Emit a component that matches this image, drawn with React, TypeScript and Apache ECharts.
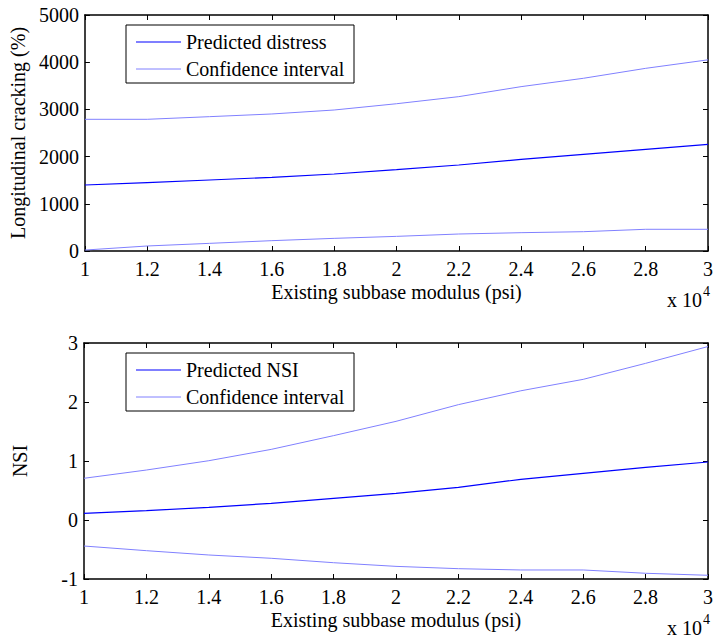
import React, { useEffect, useRef } from "react";
import * as echarts from "echarts";

// x in units of 10^4 psi
const xs = [1.0, 1.2, 1.4, 1.6, 1.8, 2.0, 2.2, 2.4, 2.6, 2.8, 3.0];
const xTicks = [1, 1.2, 1.4, 1.6, 1.8, 2, 2.2, 2.4, 2.6, 2.8, 3];

// Top plot: longitudinal cracking (%)
const predictedDistress = [1398, 1448, 1504, 1561, 1631, 1723, 1822, 1942, 2048, 2154, 2260];
const distressUpper = [2790, 2790, 2846, 2903, 2987, 3120, 3270, 3482, 3659, 3870, 4050];
const distressLower = [20, 106, 162, 219, 268, 310, 360, 388, 409, 460, 460];
const crackTicks = [0, 1000, 2000, 3000, 4000, 5000];

// Bottom plot: NSI
const predictedNSI = [0.113, 0.158, 0.215, 0.283, 0.368, 0.45, 0.554, 0.689, 0.791, 0.893, 0.983];
const nsiUpper = [0.707, 0.847, 1.005, 1.197, 1.43, 1.672, 1.955, 2.19, 2.384, 2.655, 2.94];
const nsiLower = [-0.441, -0.52, -0.593, -0.649, -0.724, -0.786, -0.825, -0.847, -0.847, -0.903, -0.937];
const nsiTicks = [-1, 0, 1, 2, 3];

const FONT = "Liberation Serif";
const DARK = "#0000ff";
const LIGHT = "#8080ff";

const pairs = (ys: number[]) => xs.map((x, i) => [x, ys[i]]);

function xAxesFor(gridIndex: number) {
  const base = {
    type: "value" as const,
    gridIndex,
    min: xTicks[0],
    max: xTicks[xTicks.length - 1],
    interval: 0.2,
    splitLine: { show: false },
    axisLine: { show: true, onZero: false, lineStyle: { color: "#000", width: 1.5 } },
    axisTick: { show: true, inside: true, length: 5, lineStyle: { color: "#000", width: 1 } },
  };
  return [
    {
      ...base,
      position: "bottom",
      name: "Existing subbase modulus (psi)",
      nameLocation: "middle",
      nameGap: 31,
      nameTextStyle: { fontFamily: FONT, fontSize: 20, color: "#000" },
      axisLabel: {
        show: true,
        margin: 8,
        fontFamily: FONT,
        fontSize: 20,
        color: "#000",
        showMinLabel: true,
        showMaxLabel: true,
        formatter: (v: number) => String(Number(v.toFixed(1))),
      },
    },
    { ...base, position: "top", axisLabel: { show: false } },
  ];
}

function yAxesFor(gridIndex: number, ticks: number[], name: string, nameGap: number) {
  const base = {
    type: "value" as const,
    gridIndex,
    min: ticks[0],
    max: ticks[ticks.length - 1],
    interval: ticks[1] - ticks[0],
    splitLine: { show: false },
    axisLine: { show: true, onZero: false, lineStyle: { color: "#000", width: 1.5 } },
    axisTick: { show: true, inside: true, length: 5, lineStyle: { color: "#000", width: 1 } },
  };
  return [
    {
      ...base,
      position: "left",
      name,
      nameLocation: "middle",
      nameRotate: 90,
      nameGap,
      nameTextStyle: { fontFamily: FONT, fontSize: 20, color: "#000" },
      axisLabel: {
        show: true,
        margin: 6,
        fontFamily: FONT,
        fontSize: 20,
        color: "#000",
        showMinLabel: true,
        showMaxLabel: true,
        formatter: (v: number) => String(v),
      },
    },
    { ...base, position: "right", axisLabel: { show: false } },
  ];
}

function line(name: string, data: number[], color: string, width: number, xi: number, yi: number) {
  return {
    type: "line",
    name,
    data: pairs(data),
    xAxisIndex: xi,
    yAxisIndex: yi,
    showSymbol: false,
    symbol: "none",
    lineStyle: { color, width },
    itemStyle: { color },
    z: 2,
  };
}

function legendBox(top: number, firstLabel: string) {
  const left = 126;
  const w = 228;
  const h = 58;
  const r1 = top + 17;
  const r2 = top + 44;
  return {
    type: "group",
    z: 100,
    children: [
      { type: "rect", shape: { x: left, y: top, width: w, height: h }, style: { fill: "#fff", stroke: "#000", lineWidth: 1 } },
      { type: "line", shape: { x1: 136, y1: r1, x2: 181, y2: r1 }, style: { stroke: DARK, lineWidth: 1.2 } },
      { type: "text", x: 186, y: r1, style: { text: firstLabel, fontFamily: FONT, fontSize: 20, fill: "#000", verticalAlign: "middle", align: "left" } },
      { type: "line", shape: { x1: 136, y1: r2, x2: 181, y2: r2 }, style: { stroke: LIGHT, lineWidth: 1 } },
      { type: "text", x: 186, y: r2, style: { text: "Confidence interval", fontFamily: FONT, fontSize: 20, fill: "#000", verticalAlign: "middle", align: "left" } },
    ],
  };
}

function exponent(y: number) {
  return {
    type: "group",
    children: [
      { type: "text", x: 667, y, style: { text: "x 10", fontFamily: FONT, fontSize: 20, fill: "#000", verticalAlign: "middle", align: "left" } },
      { type: "text", x: 703, y: y - 9, style: { text: "4", fontFamily: FONT, fontSize: 14, fill: "#000", verticalAlign: "middle", align: "left" } },
    ],
  };
}

export default function App() {
  const ref = useRef<HTMLDivElement>(null);
  useEffect(() => {
    if (!ref.current) return;
    const chart = echarts.init(ref.current, null, { renderer: "svg" });
    chart.setOption({
      animation: false,
      backgroundColor: "#fff",
      textStyle: { fontFamily: FONT },
      grid: [
        { left: 84, right: 7, top: 15, height: 236 },
        { left: 84, right: 7, top: 343, height: 236 },
      ],
      xAxis: [...xAxesFor(0), ...xAxesFor(1)],
      yAxis: [
        ...yAxesFor(0, crackTicks, "Longitudinal cracking (%)", 54),
        ...yAxesFor(1, nsiTicks, "NSI", 54),
      ],
      series: [
        line("Predicted distress", predictedDistress, DARK, 1.2, 0, 0),
        line("Confidence interval", distressUpper, LIGHT, 1, 0, 0),
        line("Confidence interval lower", distressLower, LIGHT, 1, 0, 0),
        line("Predicted NSI", predictedNSI, DARK, 1.2, 2, 2),
        line("Confidence interval NSI", nsiUpper, LIGHT, 1, 2, 2),
        line("Confidence interval NSI lower", nsiLower, LIGHT, 1, 2, 2),
      ],
      graphic: [legendBox(25, "Predicted distress"), legendBox(353, "Predicted NSI"), exponent(300), exponent(628)],
    });
    return () => chart.dispose();
  }, []);
  return <div ref={ref} style={{ position: "absolute", left: 0, top: 0, width: 716, height: 642 }} />;
}
